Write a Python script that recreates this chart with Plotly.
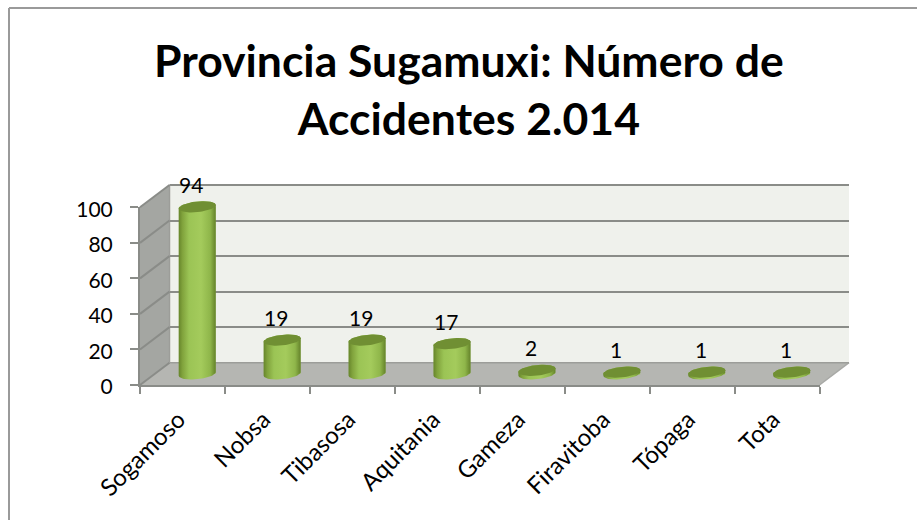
import math
import plotly.graph_objects as go

categories = ["Sogamoso", "Nobsa", "Tibasosa", "Aquitania", "Gameza", "Firavitoba", "Tópaga", "Tota"]
accidents = [94, 19, 19, 17, 2, 1, 1, 1]
y_ticks = [0, 20, 40, 60, 80, 100]
title_text = "Provincia Sugamuxi: Número de<br>Accidentes 2.014"

W, H = 917, 520
FX0, FX1 = 140.0, 819.5   # front floor edge, px
FY0, FY100 = 385.0, 207.3  # front y axis, px
DX, DY = 29.5, -22.3       # depth of the box, px
UNIT = (FY0 - FY100) / 100.0
GRID = "#8a8c88"


def px(x):
    return x / W


def py(y):
    return 1 - y / H


def pline(x0, y0, x1, y1, color=GRID, width=2):
    return dict(type="line", xref="paper", yref="paper", x0=px(x0), y0=py(y0), x1=px(x1), y1=py(y1),
                line=dict(color=color, width=width), layer="below")


def ppoly(points, fill):
    path = "M " + " L ".join(f"{px(a):.5f},{py(b):.5f}" for a, b in points) + " Z"
    return dict(type="path", xref="paper", yref="paper", path=path, fillcolor=fill, line=dict(width=0), layer="below")


shapes = [
    # chart frame
    pline(9, 8, W, 8, "#9a9a9a", 2),
    pline(9, 8, 9, H, "#9a9a9a", 2),
    # back wall, floor, side wall
    ppoly([(FX0 + DX, FY100 + DY), (FX1 + DX, FY100 + DY), (FX1 + DX, FY0 + DY), (FX0 + DX, FY0 + DY)], "#eff1ec"),
    ppoly([(FX0, FY0), (FX1, FY0), (FX1 + DX, FY0 + DY), (FX0 + DX, FY0 + DY)], "#b5b6b2"),
    ppoly([(FX0, FY0), (FX0 + DX, FY0 + DY), (FX0 + DX, FY100 + DY), (FX0, FY100)], "#a4a6a2"),
    pline(FX1, FY0, FX1 + DX, FY0 + DY, "#a8a9a6", 1.5),
    # box edges at the ends of the value range
    pline(FX0 + DX, FY100 + DY, FX1 + DX, FY100 + DY),
    pline(FX0 + DX, FY0 + DY, FX1 + DX, FY0 + DY, "#9c9d99", 1.5),
    pline(FX0 + DX, FY100 + DY, FX0 + DX, FY0 + DY, "#9c9d99", 1.5),
]
for t in y_ticks:
    yy = FY0 - t * UNIT
    shapes.append(pline(FX0, yy, FX0 + DX, yy + DY))

fig = go.Figure()
positions = list(range(len(categories)))

# Back wall: gridlines live on this axis pair
fig.add_trace(go.Scatter(x=[0], y=[0], xaxis="x", yaxis="y", mode="none", hoverinfo="skip", showlegend=False))
# Front axes: tick marks and labels
fig.add_trace(go.Bar(x=categories, y=[0] * len(categories), xaxis="x2", yaxis="y2", hoverinfo="skip", showlegend=False))
# Cylinders, at mid depth
fig.add_trace(go.Bar(x=positions, y=accidents, xaxis="x3", yaxis="y3", width=0.43, customdata=categories,
                     hovertemplate="%{customdata}: %{y}<extra></extra>",
                     marker=dict(color="#9bc455", line=dict(width=0)), showlegend=False))

A = 0.218       # half width of a cylinder, categories
B = 3.0         # ellipse half height, axis units
TILT = 1.0      # ellipse rise on the right side, axis units
STEPS = 36
body_scale = [[0, "#66852b"], [0.1, "#80a23c"], [0.28, "#9bc455"], [0.6, "#a4cb5c"], [0.85, "#8fb64a"], [1, "#64822a"]]

for i, v in zip(positions, accidents):
    xs, ys = [], []
    # bottom half of base ellipse, then up the right side and back along the top
    for k in range(STEPS + 1):
        t = math.pi * k / STEPS
        xs.append(i - A * math.cos(t))
        ys.append(-B * math.sin(t) - TILT * math.cos(t))
    for k in range(STEPS + 1):
        t = math.pi * k / STEPS
        xs.append(i + A * math.cos(t))
        ys.append(v + B * math.sin(t) + TILT * math.cos(t))
    xs.append(xs[0])
    ys.append(ys[0])
    fig.add_trace(go.Scatter(x=xs, y=ys, xaxis="x3", yaxis="y3", mode="lines", line=dict(width=0), fill="toself",
                             fillgradient=dict(type="horizontal", colorscale=body_scale, start=i - A, stop=i + A),
                             hoverinfo="skip", showlegend=False))
    xs, ys = [], []
    for k in range(2 * STEPS + 1):
        t = math.pi * k / STEPS
        xs.append(i + A * math.cos(t))
        ys.append(v + B * math.sin(t) + TILT * math.cos(t))
    fig.add_trace(go.Scatter(x=xs, y=ys, xaxis="x3", yaxis="y3", mode="lines", line=dict(width=0), fill="toself",
                             fillcolor="#708f33", hoverinfo="skip", showlegend=False))

annotations = [
    dict(x=i, y=v, xref="x3", yref="y3", text=str(v), showarrow=False, xshift=-6, yshift=22.5,
         font=dict(family="Lato", size=21, color="#000000"))
    for i, v in zip(positions, accidents)
]
annotations.append(dict(
    x=px(469), y=py(88), xref="paper", yref="paper", xanchor="center", yanchor="middle", showarrow=False,
    text=f'<span style="font-size:44.5px"><b>{title_text}</b></span>',
    font=dict(family="Lato", size=44.6, color="#000000"),
))

back_x0 = FX0 + DX
back_x1 = FX1 + DX
mid_x0 = FX0 + DX / 2
mid_x1 = FX1 + DX / 2
mid_y0 = FY0 + DY / 2
Y3_LOW, Y3_HIGH = -10, 110

fig.update_layout(
    template="none",
    width=W, height=H, autosize=False, margin=dict(l=0, r=0, t=0, b=0, pad=0),
    paper_bgcolor="#ffffff", plot_bgcolor="rgba(0,0,0,0)", showlegend=False, barmode="overlay",
    shapes=shapes, annotations=annotations,
    xaxis=dict(domain=[px(back_x0), px(back_x1)], range=[0, 1], visible=False, anchor="y", automargin=False),
    yaxis=dict(domain=[py(FY0 + DY), py(FY100 + DY)], range=[0, 100], anchor="x", tickvals=y_ticks, showticklabels=False,
               showgrid=True, gridcolor=GRID, gridwidth=2, zeroline=False, ticks="", showline=False, automargin=False),
    xaxis2=dict(domain=[px(FX0), px(FX1)], anchor="y2", type="category", categoryorder="array", categoryarray=categories,
                range=[-0.5, len(categories) - 0.5], tickson="boundaries", ticks="outside", ticklen=7, tickwidth=2,
                tickcolor=GRID, showline=True, linecolor=GRID, linewidth=2, showgrid=False, tickangle=-45, automargin=False,
                ticklabelstandoff=9, ticklabelshift=-4, tickfont=dict(family="Lato", size=24, color="#000000")),
    yaxis2=dict(domain=[py(FY0), py(FY100)], range=[0, 100], anchor="x2", tickvals=y_ticks, ticks="outside", ticklen=8,
                tickwidth=2, tickcolor=GRID, showline=True, linecolor=GRID, linewidth=2, showgrid=False, zeroline=False,
                ticklabelstandoff=13, ticklabelshift=2, automargin=False, tickfont=dict(family="Lato", size=21, color="#000000")),
    xaxis3=dict(domain=[px(mid_x0), px(mid_x1)], anchor="y3", type="linear", range=[-0.5, len(categories) - 0.5],
                visible=False, automargin=False),
    yaxis3=dict(domain=[py(mid_y0 - Y3_LOW * UNIT), py(mid_y0 - Y3_HIGH * UNIT)], range=[Y3_LOW, Y3_HIGH], anchor="x3",
                visible=False, automargin=False),
)

fig.write_html("out.html", config=dict(displayModeBar=False),
               post_script="document.body.style.margin='0';document.body.style.overflow='hidden';")
